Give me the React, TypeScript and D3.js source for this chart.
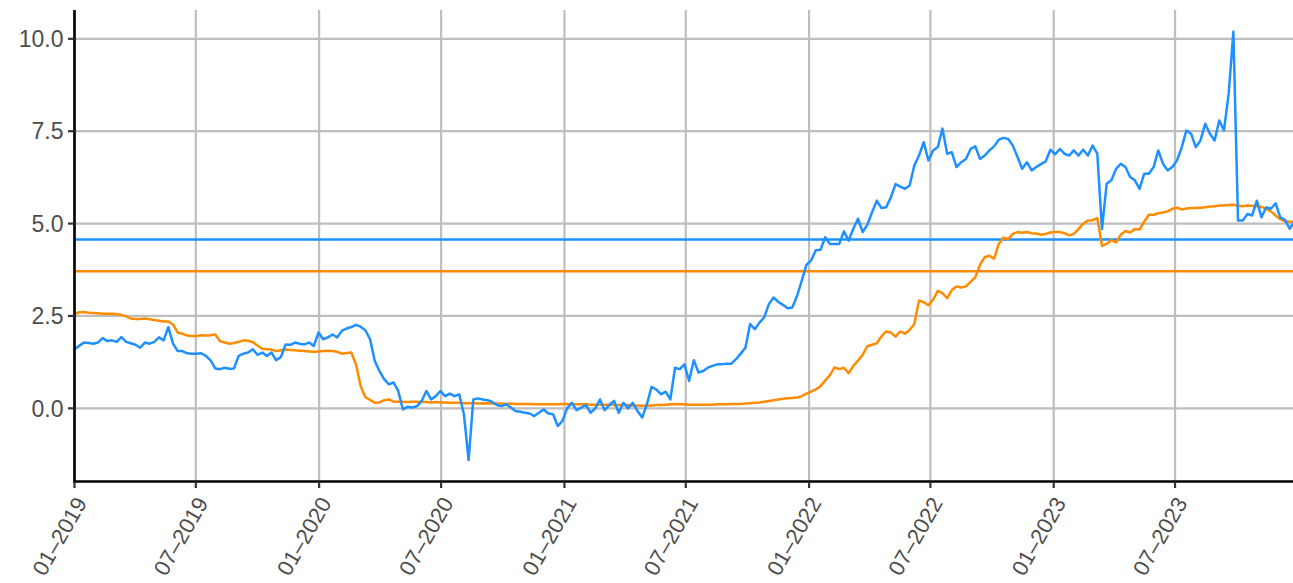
import React from "react";
import * as d3 from "d3";

// Weekly observations starting 2019-01-01
const seriesStart = "2019-01-01";
const domainEnd = "2023-12-24";

const blueSeries = [
  1.60, 1.69, 1.78, 1.77, 1.75, 1.78, 1.90, 1.82, 1.84, 1.80,
  1.93, 1.80, 1.76, 1.72, 1.64, 1.78, 1.75, 1.80, 1.92, 1.84,
  2.20, 1.75, 1.55, 1.55, 1.49, 1.48, 1.48, 1.49, 1.42, 1.30,
  1.08, 1.06, 1.10, 1.07, 1.08, 1.42, 1.48, 1.51, 1.60, 1.45,
  1.51, 1.42, 1.51, 1.30, 1.39, 1.73, 1.72, 1.78, 1.75, 1.73,
  1.78, 1.69, 2.05, 1.87, 1.92, 2.00, 1.92, 2.10, 2.16, 2.20,
  2.26, 2.21, 2.11, 1.87, 1.28, 1.01, 0.79, 0.65, 0.70, 0.47,
  -0.03, 0.04, 0.02, 0.06, 0.20, 0.47, 0.24, 0.33, 0.47, 0.33,
  0.40, 0.33, 0.38, -0.16, -1.40, 0.24, 0.27, 0.24, 0.22, 0.18,
  0.09, 0.06, 0.11, 0.02, -0.07, -0.09, -0.12, -0.14, -0.21, -0.12,
  -0.03, -0.14, -0.16, -0.48, -0.34, 0.00, 0.15, -0.05, 0.02, 0.09,
  -0.12, 0.00, 0.24, -0.05, 0.09, 0.20, -0.12, 0.15, 0.00, 0.15,
  -0.07, -0.25, 0.11, 0.58, 0.51, 0.38, 0.45, 0.24, 1.10, 1.06,
  1.19, 0.74, 1.30, 0.97, 1.01, 1.10, 1.15, 1.19, 1.19, 1.21,
  1.21, 1.33, 1.48, 1.64, 2.28, 2.14, 2.32, 2.46, 2.82, 3.00,
  2.88, 2.80, 2.71, 2.73, 3.04, 3.45, 3.88, 4.00, 4.28, 4.29,
  4.63, 4.45, 4.45, 4.45, 4.79, 4.54, 4.86, 5.13, 4.77, 4.97,
  5.31, 5.62, 5.42, 5.44, 5.71, 6.07, 6.00, 5.94, 6.03, 6.57,
  6.84, 7.20, 6.71, 6.98, 7.07, 7.57, 6.89, 6.93, 6.53, 6.66,
  6.75, 7.02, 7.09, 6.75, 6.84, 6.98, 7.09, 7.27, 7.32, 7.29,
  7.11, 6.80, 6.48, 6.66, 6.44, 6.53, 6.61, 6.68, 7.00, 6.87,
  7.02, 6.89, 6.84, 6.98, 6.84, 7.00, 6.84, 7.11, 6.89, 4.85,
  6.08, 6.17, 6.48, 6.62, 6.53, 6.26, 6.17, 5.94, 6.35, 6.35,
  6.53, 6.98, 6.62, 6.44, 6.53, 6.71, 7.07, 7.52, 7.43, 7.07,
  7.25, 7.70, 7.43, 7.25, 7.79, 7.52, 8.51, 10.19, 5.08, 5.08,
  5.26, 5.22, 5.62, 5.17, 5.44, 5.40, 5.55, 5.17, 5.10, 4.86,
  5.05,
];

const orangeSeries = [
  2.55, 2.60, 2.61, 2.59, 2.58, 2.57, 2.56, 2.56, 2.56, 2.55,
  2.53, 2.49, 2.43, 2.42, 2.42, 2.43, 2.41, 2.39, 2.37, 2.35,
  2.35, 2.27, 2.05, 2.02, 1.97, 1.96, 1.96, 1.98, 1.97, 1.98,
  2.00, 1.82, 1.78, 1.75, 1.77, 1.80, 1.84, 1.83, 1.79, 1.70,
  1.61, 1.60, 1.59, 1.55, 1.57, 1.59, 1.58, 1.57, 1.56, 1.55,
  1.54, 1.53, 1.54, 1.55, 1.56, 1.55, 1.53, 1.48, 1.50, 1.51,
  1.19, 0.60, 0.30, 0.23, 0.15, 0.16, 0.22, 0.24, 0.18, 0.18,
  0.18, 0.17, 0.18, 0.18, 0.17, 0.17, 0.16, 0.17, 0.16, 0.16,
  0.15, 0.15, 0.15, 0.14, 0.14, 0.14, 0.13, 0.14, 0.13, 0.13,
  0.13, 0.13, 0.12, 0.13, 0.12, 0.12, 0.12, 0.12, 0.11, 0.11,
  0.11, 0.11, 0.11, 0.11, 0.12, 0.12, 0.11, 0.11, 0.11, 0.11,
  0.10, 0.10, 0.10, 0.10, 0.10, 0.09, 0.09, 0.09, 0.09, 0.08,
  0.08, 0.07, 0.07, 0.08, 0.09, 0.09, 0.10, 0.11, 0.12, 0.11,
  0.11, 0.10, 0.10, 0.10, 0.10, 0.10, 0.10, 0.11, 0.11, 0.11,
  0.12, 0.12, 0.12, 0.13, 0.14, 0.15, 0.16, 0.18, 0.20, 0.22,
  0.24, 0.26, 0.27, 0.28, 0.29, 0.33, 0.40, 0.45, 0.51, 0.60,
  0.75, 0.90, 1.11, 1.06, 1.10, 0.95, 1.15, 1.29, 1.45, 1.68,
  1.72, 1.76, 1.95, 2.08, 2.05, 1.94, 2.08, 2.02, 2.12, 2.28,
  2.92, 2.87, 2.79, 2.94, 3.18, 3.12, 2.98, 3.20, 3.30, 3.27,
  3.30, 3.42, 3.55, 3.88, 4.09, 4.13, 4.05, 4.45, 4.62, 4.58,
  4.72, 4.77, 4.75, 4.77, 4.74, 4.73, 4.70, 4.72, 4.76, 4.77,
  4.77, 4.74, 4.68, 4.72, 4.85, 5.00, 5.08, 5.09, 5.15, 4.40,
  4.45, 4.55, 4.49, 4.70, 4.80, 4.76, 4.85, 4.84, 5.05, 5.24,
  5.24, 5.28, 5.30, 5.33, 5.40, 5.43, 5.38, 5.41, 5.42, 5.42,
  5.43, 5.44, 5.46, 5.47, 5.49, 5.49, 5.50, 5.51, 5.48, 5.47,
  5.49, 5.48, 5.47, 5.45, 5.40, 5.33, 5.22, 5.12, 5.06, 5.05,
  5.05,
];

const blueReference = 4.57;
const orangeReference = 3.71;

const xTickDates = [
  "2019-01-01", "2019-07-01", "2020-01-01", "2020-07-01", "2021-01-01",
  "2021-07-01", "2022-01-01", "2022-07-01", "2023-01-01", "2023-07-01",
];
const xTickLabels = [
  "01–2019", "07–2019", "01–2020", "07–2020", "01–2021",
  "07–2021", "01–2022", "07–2022", "01–2023", "07–2023",
];
const yTicks = [0, 2.5, 5, 7.5, 10];
const yDomain = [-1.98, 10.78];

const W = 1293;
const H = 583;
const M = { left: 74.5, right: 1293, top: 10, bottom: 481.5 };
const BLUE = "#1E90FF";
const ORANGE = "#FF8C00";
const GRID = "#BEBEBE";
const FONT = "'Liberation Sans', Arial, Helvetica, sans-serif";

export default function App() {
  const parse = d3.timeParse("%Y-%m-%d");
  const start = parse(seriesStart) as Date;
  const end = parse(domainEnd) as Date;
  const x = d3.scaleTime().domain([start, end]).range([M.left, M.right]);
  const y = d3.scaleLinear().domain(yDomain).range([M.bottom, M.top]);

  const dates = blueSeries.map((_, i) => d3.timeDay.offset(start, 7 * i));
  const line = d3
    .line<number>()
    .x((_, i) => x(dates[i]))
    .y((d) => y(d));

  const fmt = d3.format(".1f");

  return (
    <svg
      width={W}
      height={H}
      style={{ position: "absolute", left: 0, top: 0, display: "block", background: "#fff" }}
    >
      <defs>
        <clipPath id="panel">
          <rect x={M.left} y={M.top} width={M.right - M.left} height={M.bottom - M.top} />
        </clipPath>
      </defs>
      <g>
        {yTicks.map((t) => (
          <line key={"gy" + t} x1={M.left} x2={M.right} y1={y(t)} y2={y(t)} stroke={GRID} strokeWidth={2.2} />
        ))}
        {xTickDates.map((d) => {
          const xx = x(parse(d) as Date);
          return <line key={"gx" + d} x1={xx} x2={xx} y1={M.top} y2={M.bottom} stroke={GRID} strokeWidth={2.2} />;
        })}
      </g>
      <g clipPath="url(#panel)">
        <line x1={M.left} x2={M.right} y1={y(blueReference)} y2={y(blueReference)} stroke={BLUE} strokeWidth={2.4} />
        <line x1={M.left} x2={M.right} y1={y(orangeReference)} y2={y(orangeReference)} stroke={ORANGE} strokeWidth={2.4} />
        <path d={line(orangeSeries) || ""} fill="none" stroke={ORANGE} strokeWidth={2.5} strokeLinejoin="round" />
        <path d={line(blueSeries) || ""} fill="none" stroke={BLUE} strokeWidth={2.5} strokeLinejoin="round" />
      </g>
      {/* axes */}
      <line x1={M.left} x2={M.left} y1={M.top} y2={M.bottom + 1.2} stroke="#000" strokeWidth={2.6} />
      <line x1={M.left - 1.2} x2={M.right} y1={M.bottom} y2={M.bottom} stroke="#000" strokeWidth={2.6} />
      {yTicks.map((t) => (
        <g key={"ty" + t}>
          <line x1={M.left - 6.5} x2={M.left} y1={y(t)} y2={y(t)} stroke="#333" strokeWidth={2.2} />
          <text
            x={M.left - 11}
            y={y(t)}
            dy="0.36em"
            textAnchor="end"
            fontFamily={FONT}
            fontSize={23}
            fill="#4D4D4D"
          >
            {fmt(t)}
          </text>
        </g>
      ))}
      {xTickDates.map((d, i) => {
        const xx = x(parse(d) as Date);
        return (
          <g key={"tx" + d}>
            <line x1={xx} x2={xx} y1={M.bottom} y2={M.bottom + 6.5} stroke="#333" strokeWidth={2.2} />
            <text
              transform={`translate(${xx + 13},${M.bottom + 21.5}) rotate(-60)`}
              textAnchor="end"
              fontFamily={FONT}
              fontSize={22}
              fill="#4D4D4D"
            >
              {xTickLabels[i]}
            </text>
          </g>
        );
      })}
    </svg>
  );
}
